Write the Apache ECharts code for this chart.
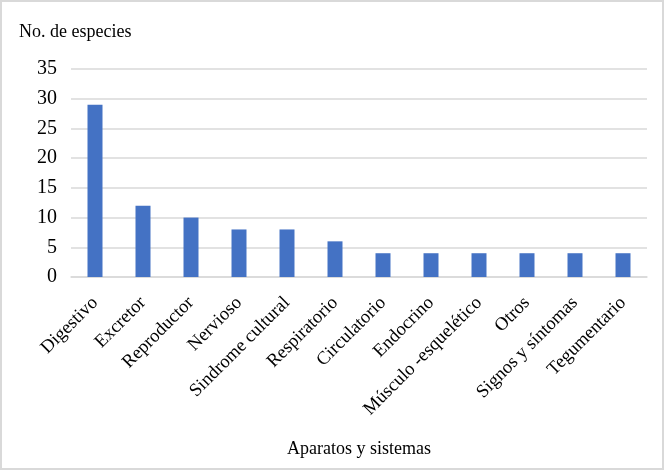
<!DOCTYPE html>
<html>
<head>
<meta charset="utf-8">
<script src="https://cdn.jsdelivr.net/npm/echarts@6/dist/echarts.min.js"></script>
<style>
  html, body { margin: 0; padding: 0; background: #fff; }
  #chart { width: 664px; height: 470px; box-sizing: border-box; border: 2px solid #d9d9d9; }
</style>
</head>
<body>
<div id="chart"></div>
<script>
const categories = ['Digestivo', 'Excretor', 'Reproductor', 'Nervioso', 'Sindrome cultural',
    'Respiratorio', 'Circulatorio', 'Endocrino', 'Músculo -esquelético', 'Otros',
    'Signos y síntomas', 'Tegumentario'];
const especies = [29, 12, 10, 8, 8, 6, 4, 4, 4, 4, 4, 4];
const yTicks = { min: 0, max: 35, interval: 5 };

const font = '"Liberation Serif", "Times New Roman", serif';
const myChart = echarts.init(document.getElementById('chart'));

const option = {
    title: {
        text: 'No. de especies',
        left: 12,
        top: 16,
        textStyle: { fontFamily: font, fontSize: 18, fontWeight: 'normal', color: '#000' }
    },
    grid: { left: 69, right: 15, top: 67, bottom: 191 },
    xAxis: {
        type: 'category',
        data: categories,
        name: 'Aparatos y sistemas',
        nameLocation: 'middle',
        nameGap: 163,
        nameTextStyle: { fontFamily: font, fontSize: 18, color: '#000' },
        axisLine: { lineStyle: { color: '#d9d9d9', width: 1.5 } },
        axisTick: { show: false },
        axisLabel: { rotate: 45, margin: 23, fontFamily: font, fontSize: 18.5, color: '#000', interval: 0 }
    },
    yAxis: {
        type: 'value',
        min: yTicks.min,
        max: yTicks.max,
        interval: yTicks.interval,
        axisLine: { show: false },
        axisTick: { show: false },
        axisLabel: { margin: 14, fontFamily: font, fontSize: 20, color: '#000' },
        splitLine: { lineStyle: { color: '#d9d9d9', width: 1.5 } }
    },
    series: [{
        type: 'bar',
        data: especies,
        barWidth: 15,
        itemStyle: { color: '#4472c4' }
    }]
};
myChart.setOption(option);
</script>
</body>
</html>
